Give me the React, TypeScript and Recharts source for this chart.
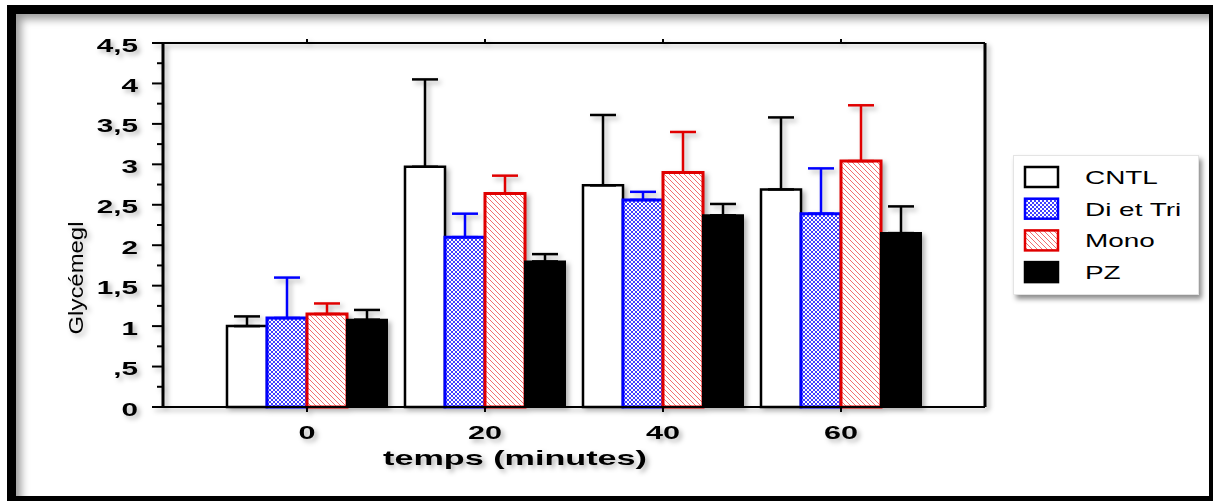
import React from "react";
import { Bar, BarChart, ErrorBar, Label, XAxis, YAxis } from "recharts";

const categories = ["0", "20", "40", "60"];
const cntl = [1.0, 2.97, 2.74, 2.69];
const cntlErr = [0.12, 1.08, 0.87, 0.89];
const diTri = [1.1, 2.1, 2.56, 2.39];
const diTriErr = [0.5, 0.29, 0.1, 0.56];
const mono = [1.15, 2.64, 2.9, 3.04];
const monoErr = [0.13, 0.22, 0.5, 0.69];
const pz = [1.08, 1.8, 2.37, 2.15];
const pzErr = [0.12, 0.09, 0.14, 0.33];
const yTicks = [0, 0.25, 0.5, 0.75, 1, 1.25, 1.5, 1.75, 2, 2.25, 2.5, 2.75, 3, 3.25, 3.5, 3.75, 4, 4.25, 4.5];

const legendItems = [
  { name: "CNTL", fill: "#fff", stroke: "#000" },
  { name: "Di et Tri", fill: "url(#blueHatch)", stroke: "#0000ff" },
  { name: "Mono", fill: "url(#redHatch)", stroke: "#e00000" },
  { name: "PZ", fill: "#000", stroke: "#000" },
];

const data = categories.map((t, i) => ({
  t,
  cntl: cntl[i],
  cntlE: [0, cntlErr[i]],
  diTri: diTri[i],
  diTriE: [0, diTriErr[i]],
  mono: mono[i],
  monoE: [0, monoErr[i]],
  pz: pz[i],
  pzE: [0, pzErr[i]],
}));

const FONT = "'Liberation Sans', Arial, sans-serif";

const isMajor = (v: number) => Math.abs(v * 2 - Math.round(v * 2)) < 1e-6;
const fmt = (v: number) => String(v).replace(".", ",").replace(/^0,/, ",");

function LeftTick({ x, y, payload }: any) {
  const v = payload.value as number;
  const major = isMajor(v);
  return (
    <g>
      <line x1={x - (major ? 11 : 6)} x2={x} y1={y} y2={y} stroke="#000" strokeWidth={2} />
      {major && (
        <text
          transform={`translate(${x - 25},${y + 8.5}) scale(1.65,1)`}
          textAnchor="end"
          fontFamily={FONT}
          fontWeight="bold"
          fontSize={18}
          fill="#000"
        >
          {fmt(v)}
        </text>
      )}
    </g>
  );
}

function RightTick({ x, y, payload }: any) {
  const major = isMajor(payload.value);
  return <line x1={x} x2={x + (major ? 12 : 7)} y1={y} y2={y} stroke="#000" strokeWidth={2} />;
}

function BottomTick({ x, y, payload }: any) {
  return (
    <text
      transform={`translate(${x},${y + 27}) scale(1.7,1)`}
      textAnchor="middle"
      fontFamily={FONT}
      fontWeight="bold"
      fontSize={18}
      fill="#000"
    >
      {payload.value}
    </text>
  );
}

const EmptyTick = () => <g />;

function Patterns() {
  return (
    <svg width={0} height={0} style={{ position: "absolute" }}>
      <defs>
        <pattern id="blueHatch" width={4} height={4} patternUnits="userSpaceOnUse">
          <rect width={4} height={4} fill="#fff" />
          <path d="M0,0 L4,4 M4,0 L0,4" stroke="#2a2aff" strokeWidth={0.9} />
        </pattern>
        <pattern id="redHatch" width={5} height={5} patternUnits="userSpaceOnUse">
          <rect width={5} height={5} fill="#fff" />
          <path d="M0,0 L5,5 M-1,4 L1,6 M4,-1 L6,1" stroke="#f06060" strokeWidth={0.9} />
        </pattern>
      </defs>
    </svg>
  );
}

function ChartLegend() {
  return (
    <div
      style={{
        position: "absolute",
        left: 1013,
        top: 155,
        width: 186,
        height: 140,
        background: "#fff",
        border: "1px solid #e4e4e4",
        boxSizing: "border-box",
        boxShadow: "3px 4px 5px rgba(0,0,0,0.45)",
      }}
    >
      <svg width={186} height={140} style={{ position: "absolute", left: -1, top: -1 }}>
        {legendItems.map((item, i) => (
          <g key={item.name}>
            <rect
              x={12}
              y={12 + i * 31.7}
              width={33}
              height={20}
              fill={item.fill}
              stroke={item.stroke}
              strokeWidth={2.5}
            />
            <text
              transform={`translate(72,${29 + i * 31.7}) scale(1.47,1)`}
              fontFamily={FONT}
              fontSize={19}
              fill="#000"
            >
              {item.name}
            </text>
          </g>
        ))}
      </svg>
    </div>
  );
}

export default function App() {
  return (
    <div
      style={{
        position: "fixed",
        left: 0,
        top: 0,
        width: 1213,
        height: 501,
        overflow: "hidden",
        background: "#fff",
      }}
    >
      <Patterns />
      <div
        style={{
          position: "absolute",
          left: 7,
          top: 5,
          width: 1211,
          height: 500,
          border: "9px solid #000",
          boxSizing: "border-box",
          boxShadow: "inset 7px 7px 8px -2px rgba(0,0,0,0.4)",
        }}
      />
      <div
        style={{
          position: "absolute",
          left: 0,
          top: 0,
          filter: "drop-shadow(3px 3px 2.5px rgba(0,0,0,0.3))",
        }}
      >
        <BarChart
          width={1213}
          height={501}
          data={data}
          margin={{ top: 0, right: 0, bottom: 0, left: 0 }}
          barCategoryGap={9}
          barGap={0}
        >
          <XAxis
            dataKey="t"
            xAxisId="bottom"
            height={94}
            padding={{ left: 55, right: 55 }}
            axisLine={{ stroke: "#000", strokeWidth: 2 }}
            tickLine={{ stroke: "#000", strokeWidth: 2 }}
            tickSize={5}
            tickMargin={0}
            tick={<BottomTick />}
          >
            <Label
              content={() => (
                <text
                  transform="translate(515,465) scale(1.71,1)"
                  textAnchor="middle"
                  fontFamily={FONT}
                  fontWeight="bold"
                  fontSize={20}
                  fill="#000"
                >
                  temps (minutes)
                </text>
              )}
            />
          </XAxis>
          <XAxis
            dataKey="t"
            xAxisId="top"
            orientation="top"
            height={43}
            padding={{ left: 55, right: 55 }}
            axisLine={{ stroke: "#000", strokeWidth: 2 }}
            tickLine={{ stroke: "#000", strokeWidth: 2 }}
            tickSize={4}
            tick={<EmptyTick />}
          />
          <YAxis
            yAxisId="left"
            width={163}
            domain={[0, 4.5]}
            ticks={yTicks}
            interval={0}
            axisLine={{ stroke: "#000", strokeWidth: 3 }}
            tickLine={false}
            tickSize={0}
            tickMargin={0}
            tick={<LeftTick />}
          >
            <Label
              content={() => (
                <text
                  transform="translate(83,278) rotate(-90)"
                  textAnchor="middle"
                  fontFamily={FONT}
                  fontSize={21}
                  textLength={113}
                  lengthAdjust="spacingAndGlyphs"
                  fill="#000"
                >
                  Glycémegl
                </text>
              )}
            />
          </YAxis>
          <YAxis
            yAxisId="right"
            orientation="right"
            width={228}
            domain={[0, 4.5]}
            ticks={yTicks}
            interval={0}
            axisLine={{ stroke: "#000", strokeWidth: 3 }}
            tickLine={false}
            tickSize={0}
            tickMargin={0}
            tick={<RightTick />}
          />
          <Bar
            dataKey="cntl"
            name="CNTL"
            xAxisId="bottom"
            yAxisId="left"
            fill="#fff"
            stroke="#000"
            strokeWidth={2.5}
            isAnimationActive={false}
          >
            <ErrorBar dataKey="cntlE" width={13} stroke="#000" strokeWidth={2.5} direction="y" />
          </Bar>
          <Bar
            dataKey="diTri"
            name="Di et Tri"
            xAxisId="bottom"
            yAxisId="left"
            fill="url(#blueHatch)"
            stroke="#0000ff"
            strokeWidth={3}
            isAnimationActive={false}
          >
            <ErrorBar dataKey="diTriE" width={13} stroke="#0000ff" strokeWidth={2.5} direction="y" />
          </Bar>
          <Bar
            dataKey="mono"
            name="Mono"
            xAxisId="bottom"
            yAxisId="left"
            fill="url(#redHatch)"
            stroke="#e00000"
            strokeWidth={3}
            isAnimationActive={false}
          >
            <ErrorBar dataKey="monoE" width={13} stroke="#e00000" strokeWidth={2.5} direction="y" />
          </Bar>
          <Bar
            dataKey="pz"
            name="PZ"
            xAxisId="bottom"
            yAxisId="left"
            fill="#000"
            stroke="#000"
            strokeWidth={2}
            isAnimationActive={false}
          >
            <ErrorBar dataKey="pzE" width={13} stroke="#000" strokeWidth={2.5} direction="y" />
          </Bar>
        </BarChart>
      </div>
      <ChartLegend />
    </div>
  );
}
